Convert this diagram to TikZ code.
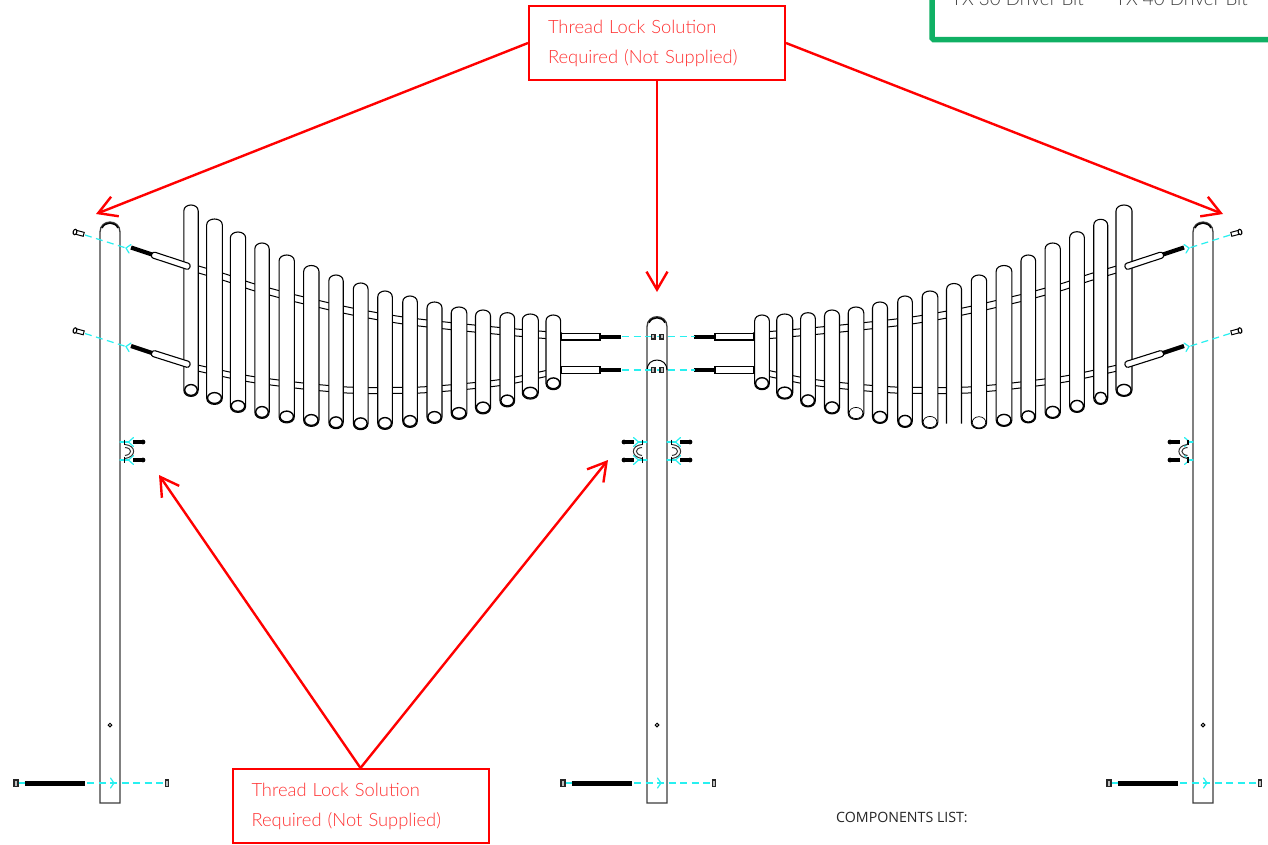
\documentclass[tikz,border=0pt]{standalone}
\usepackage{fontspec}
\setmainfont{Lato}
\newfontfamily\latolight{Lato Light}
\newfontfamily\opensans{Open Sans}
\usetikzlibrary{arrows.meta}
\definecolor{redline}{RGB}{255,0,0}
\definecolor{redtext}{RGB}{255,50,50}
\definecolor{cyanline}{RGB}{40,240,240}
\definecolor{greenline}{RGB}{16,176,100}
\definecolor{posteline}{RGB}{60,60,60}
\tikzset{
  redbox/.style={draw=redline,line width=2pt,fill=white,inner xsep=19pt,inner ysep=0pt,text width=218pt,
    minimum height=74pt,align=left,text=redtext,font=\latolight\fontsize{18.35}{30}\selectfont},
  redarrow/.style={draw=redline,line width=2.4pt,-{Straight Barb[length=18pt,width=21pt,line width=2.4pt]}},
  pickete/.style={draw=black,line width=1.1pt,fill=white},
  postline/.style={draw=posteline,line width=1.3pt,fill=white},
  cyandash/.style={draw=cyanline,line width=1.2pt,dash pattern=on 7pt off 4.5pt},
  cyanchev/.style={draw=cyanline,line width=1.2pt,line cap=round},
  threadbar/.style={draw=black,line width=4.2pt},
  railline/.style={draw=black,line width=1pt},
}
\newcommand{\railsandtubes}{%
  \foreach \o in {-3.5,3.5}{
    \draw[railline] plot[smooth] coordinates {(190,267+\o) (202,270.5+\o) (227,278+\o) (250,286+\o) (273,292.5+\o) (298,299+\o) (350,311+\o) (400,320+\o) (450,326+\o) (500,331+\o) (562,336.5+\o)};
  }
  \foreach \o in {-3,3}{
    \draw[railline] plot[smooth] coordinates {(190,366+\o) (202,369+\o) (250,379+\o) (303,386+\o) (323,388+\o) (347,390+\o) (372,390.5+\o) (420,390+\o) (470,386+\o) (510,381+\o) (562,370+\o)};
  }
}
\newcommand{\tubesfront}{%
  \foreach \ya/\yb/\yc in {247.5/254.5/268,346/353/366}{
    \draw[threadbar] (131,\ya) -- (152,\yb);
    \draw[pickete,rounded corners=2.6pt] (150.6,\yb+2.8) -- (152.8,\yb-3) -- (190.8,\yc-4) -- (189,\yc+2) -- cycle;
  }
  \foreach \y in {336.7,370}{
    \draw[pickete] (561,\y-3.3) rectangle (600,\y+3.3);
    \draw[threadbar] (600,\y) -- (621,\y);
  }
}
\newcommand{\screwpair}{%
  \foreach \ya/\yb/\yc/\yd in {232/235/248/250,330.5/333.5/346.5/348.5}{
    \draw[cyandash] (85,\yb) -- (126,\yc);
    \draw[cyanchev] (131,\yc-3.5) -- (126,\yc) -- (129,\yc+5);
    \begin{scope}[shift={(75,\ya)},rotate=-15]
      \draw[pickete,line width=1pt] (1,-2) rectangle (9,2);
      \draw[pickete,line width=1.1pt] (0,0) ellipse [x radius=1.8,y radius=2.8];
    \end{scope}
  }
}
\newcommand{\bracketset}[4]{%
  \begin{scope}[shift={(#1,0)},xscale=#2]
    \foreach \y in {442,460}{
      \draw[cyanchev] (0,\y) -- (#3,\y);
      \draw[cyanchev] (#3+5,\y-4.5) -- (#3,\y) -- (#3+5,\y+4.5);
      \draw[black,line width=3.6pt] (13,\y) -- (23,\y);
      \fill[black] (23,\y) circle [radius=2.4];
    }
    \draw[black,line width=1.8pt] (#4,439.5) -- (#4,445);
    \draw[black,line width=1.8pt] (#4,456.5) -- (#4,462.5);
    \draw[black!80,line width=1pt] (#4+.5,444.5) .. controls (#4+12,445.5) and (#4+12,457) .. (#4+.5,458.5);
    \draw[black!80,line width=1pt] (#4+.5,447.5) .. controls (#4+8,448) and (#4+8,454.5) .. (#4+.5,455.5);
  \end{scope}
}
\newcommand{\lowerfix}[1]{%
  \begin{scope}[shift={(#1,0)}]
    \draw[cyandash] (19,783) -- (25,783);
    \draw[cyandash] (87,783) -- (165,783);
    \draw[cyanchev] (110.5,778) -- (114,783) -- (110.5,788);
    \draw[black,line width=5pt] (24.5,783.5) -- (85,783.5);
    \draw[black!85,line width=1.5pt,fill=black!25] (14,780) rectangle (18,786.5);
    \draw[black!85,line width=1.5pt,fill=black!25] (165.5,780) rectangle (168.5,786.5);
    \draw[black,line width=1pt,fill=white] (110,725) circle [radius=1.8];
  \end{scope}
}
\begin{document}
\begin{tikzpicture}[x=1pt,y=-1pt]
\useasboundingbox (0,0) rectangle (1268,844);
\clip (0,0) rectangle (1268,844);
\fill[white] (0,0) rectangle (1268,844);

% green box
\draw[draw=greenline,line width=5.5pt,rounded corners=1.5pt] (932,-20) -- (932,39.5) -- (1290,39.5);
\node[anchor=base west,inner sep=0pt,text=black!75,font=\latolight\fontsize{18.8}{24}\selectfont] (bita) at (951,5) {TX 30 Driver Bit};
\node[anchor=base west,inner sep=0pt,text=black!75,font=\latolight\fontsize{18.8}{24}\selectfont] (bitb) at (1115,5) {TX 40 Driver Bit};

% rails and tubes
\railsandtubes
\begin{scope}[shift={(1315,0)},xscale=-1]\railsandtubes\end{scope}

% pickets, left panel
\foreach \x/\w/\t/\b in {191/14.4/205/390,214.5/15.7/219/398,238/15.3/232/406,262/14.4/243/412,286.7/15.3/255/416.5,311.3/15.3/265.5/420,336/14.4/275/422.3,360.7/14.7/283/423.3,385/14.6/291/423,410/14.6/296/421,434.5/15/302/417,459/15.6/307/413,483/15/310/407.5,507.3/14.7/312.7/400.5,530.3/16/314/392.7,553.3/14.7/315/383.3}{
  \draw[pickete] (\x-\w/2,\b) -- (\x-\w/2,\t+6) .. controls (\x-\w/2,\t-2) and (\x+\w/2,\t-2) .. (\x+\w/2,\t+6) -- (\x+\w/2,\b) .. controls (\x+\w/2,\b+8.5) and (\x-\w/2,\b+8.5) .. cycle;
  \draw[black,line width=1.4pt] (\x,\b) ellipse [x radius=\w/2-.9,y radius=5.4];
}
% pickets, right panel
\foreach \x/\w/\t/\b/\lw in {1124/16/205/390/1.4,1100.7/14/219.3/398/1.4,1077/14.7/231.7/406/1.4,1052.7/15.3/243/412/1.4,1028.3/14.7/255/416.5/1.4,1004/15.7/265.5/420/1.4,979/15.3/275/422.3/.7,930/15.6/291/422/.7,905/14.6/296/421/1.4,880/15/302/417/1.4,856/15.6/307/413/.7,832/15/310/407.5/1.4,808/14.7/312.7/400.5/1.4,784.7/16/314/392.7/1.4,762/14.7/315/383.3/1.4}{
  \draw[pickete] (\x-\w/2,\b) -- (\x-\w/2,\t+6) .. controls (\x-\w/2,\t-2) and (\x+\w/2,\t-2) .. (\x+\w/2,\t+6) -- (\x+\w/2,\b) .. controls (\x+\w/2,\b+8.5) and (\x-\w/2,\b+8.5) .. cycle;
  \draw[black,line width=\lw pt] (\x,\b) ellipse [x radius=\w/2-.9,y radius=5.6];
}
% open picket
\fill[white] (946.5,290) rectangle (961.5,424);
\draw[pickete,fill=none] (946.5,423.5) -- (946.5,289.5) .. controls (946.5,281.5) and (961.5,281.5) .. (961.5,289.5) -- (961.5,423.5);

% front parts of the tubes
\tubesfront
\begin{scope}[shift={(1315,0)},xscale=-1]\tubesfront\end{scope}

% posts
\foreach \x/\t in {100/222,647/316.7,1193/222}{
  \draw[postline] (\x,803) -- (\x,\t+10) .. controls (\x,\t-3.3) and (\x+20,\t-3.3) .. (\x+20,\t+10) -- (\x+20,803) -- cycle;
  \draw[black,line width=1.5pt] (\x+2,\t+6) .. controls (\x+5,\t-.6) and (\x+15,\t-.6) .. (\x+18,\t+6);
}
\draw[black,line width=1pt] (647,370) .. controls (647,356.7) and (667,356.7) .. (667,370);

% screws and dashed lines
\screwpair
\begin{scope}[shift={(1315,0)},xscale=-1]\screwpair\end{scope}
\foreach \y in {336.7,370}{
  \draw[cyandash] (622,\y) -- (695,\y);
  \foreach \x in {653.3,661.7}{
    \draw[black!85,line width=1.3pt,fill=black!25] (\x-1.8,\y-2.2) rectangle (\x+1.8,\y+2.2);
  }
}

% brackets
\bracketset{120}{1}{8.5}{4.5}
\bracketset{647}{-1}{8.5}{4.5}
\bracketset{667}{1}{8.5}{4.5}
\bracketset{1193}{-1}{3.5}{5}

% lower fixings
\lowerfix{0}
\lowerfix{547}
\lowerfix{1093}

% labels
\node[redbox] (topbox) at (657,43) {\raisebox{-2pt}{Thread Lock Solution}\\\raisebox{-2pt}{Required (Not Supplied)}};
\node[redbox] (botbox) at (360.5,806) {\raisebox{-2pt}{Thread Lock Solution}\\\raisebox{-2pt}{Required (Not Supplied)}};
\node[anchor=base west,inner sep=0pt,text=black!85,font=\opensans\fontsize{14.2}{17}\selectfont] (comps) at (836,822) {COMPONENTS LIST:};

\coordinate (tipa) at (96,214);
\coordinate (tipb) at (1223,214);
\coordinate (tipc) at (657,292);
\coordinate (tipd) at (159,475);
\coordinate (tipe) at (608,460);
\draw[redarrow] (topbox.west) -- (tipa);
\draw[redarrow] (topbox.east) -- (tipb);
\draw[redarrow] (topbox.south) -- (tipc);
\draw[redarrow] (botbox.north) -- (tipd);
\draw[redarrow] (botbox.north) -- (tipe);
\end{tikzpicture}
\end{document}
